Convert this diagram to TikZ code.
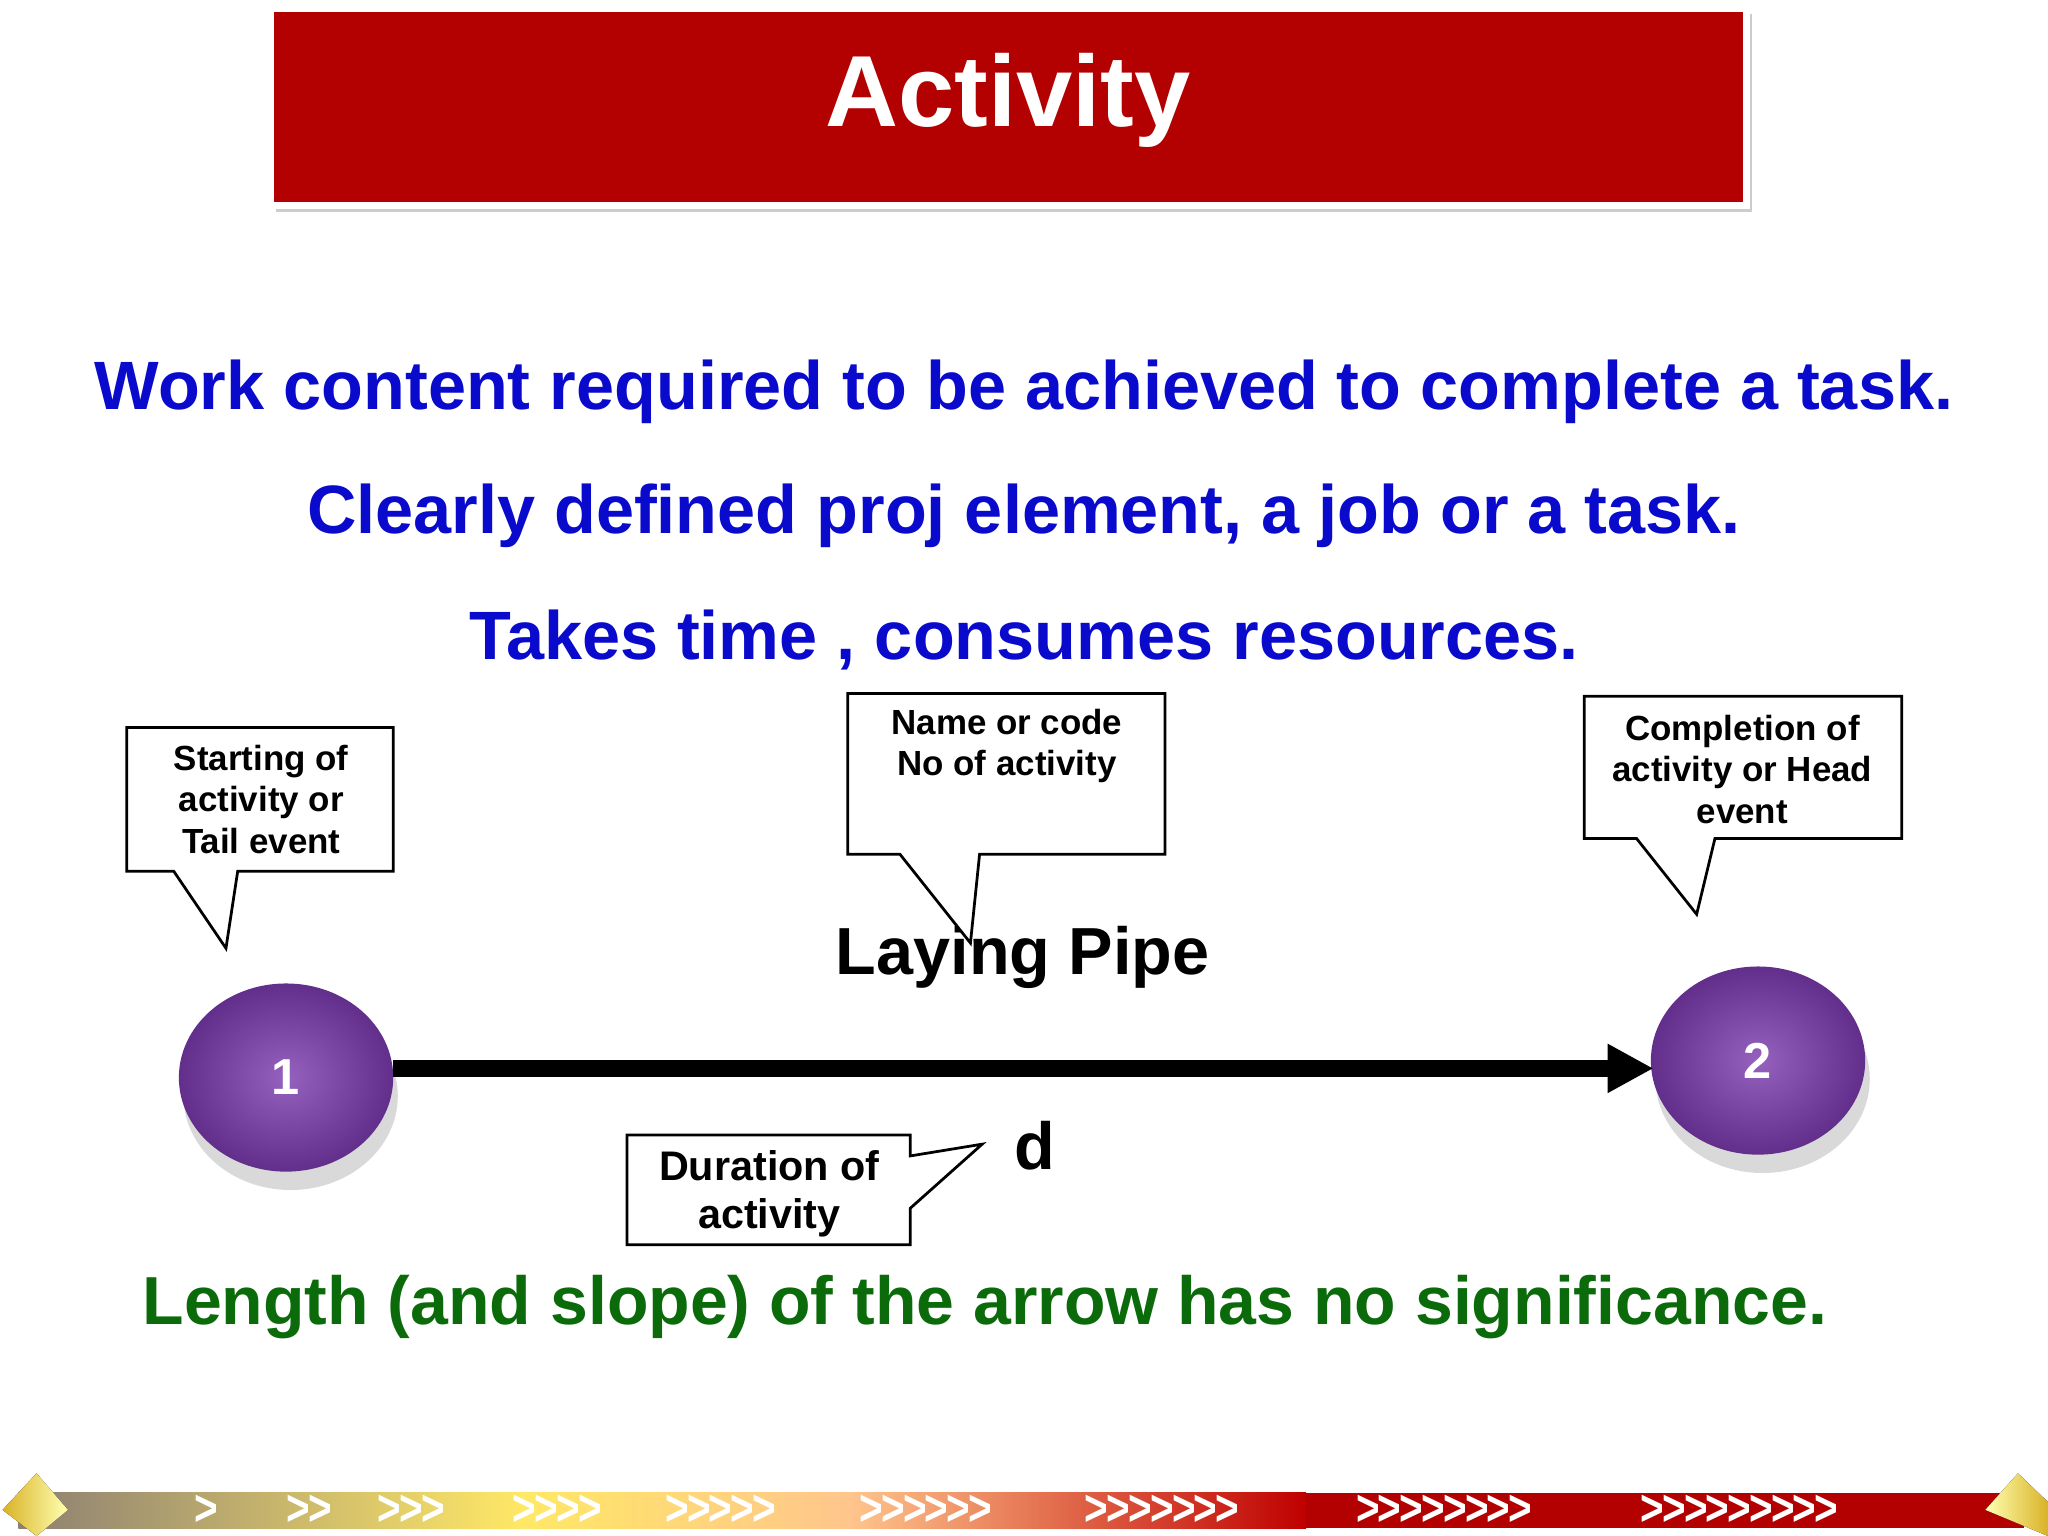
\documentclass[tikz,border=0pt]{standalone}
\usepackage{fontspec}
\setmainfont{Liberation Sans}
\usetikzlibrary{shapes.geometric,arrows.meta,shadows}
\definecolor{tred}{HTML}{B30000}
\definecolor{tblue}{HTML}{0A0ACC}
\definecolor{tgreen}{HTML}{0B6B0B}
\definecolor{tpurp}{HTML}{7B3AAE}
\newcommand{\chev}[1]{\foreach \i in {1,...,#1}{>\kern-0.5pt}}
\begin{document}
\begin{tikzpicture}[x=0.01cm,y=-0.01cm,
  callout/.style={draw,line width=0.6pt,fill=white},
  ctext/.style={font=\bfseries\fontsize{7.6}{9}\selectfont,align=center},
  btext/.style={font=\bfseries\fontsize{14.9}{18}\selectfont,text=tblue},
  event/.style={ellipse,minimum width=1.64cm,minimum height=1.44cm,inner sep=0pt,text=white,
    font=\bfseries\fontsize{11}{12}\selectfont,
    inner color=tpurp!80!white,outer color=tpurp!80!black,
    drop shadow={opacity=0.3,shadow xshift=1pt,shadow yshift=-4pt}}]
\useasboundingbox (0,0) rectangle (1568,1176);
% title
\fill[gray!40] (211,11) rectangle (1341,162);
\node[draw=white,line width=1.5pt,fill=tred,minimum width=1130*0.01cm,minimum height=151*0.01cm,inner sep=0pt] (title) at (772,82) {};
\node[text=white,font=\bfseries\fontsize{22}{26}\selectfont] (tt) at (772,77) {Activity};
% blue lines
\node[btext] (l1) at (784,300) {Work content required to be achieved to complete a task.};
\node[btext] (l2) at (784,395) {Clearly defined proj element, a job or a task.};
\node[btext] (l3) at (784,490) {Takes time , consumes resources.};
% events
\node[event] (e1) at (219,825) {1};
\node[event] (e2) at (1346,812) {2};
\coordinate (as) at (301,818);
\coordinate (ae) at (1266,818);
\draw[line width=3.6pt,-{Triangle[length=10pt,width=10pt]}] (as) -- (ae);
\node[font=\bfseries\fontsize{14.5}{16}\selectfont] (lp) at (783,733) {Laying Pipe};
\node[font=\bfseries\fontsize{14.5}{16}\selectfont] (d) at (792,877) {d};
% callouts
\draw[callout] (97,557) -- (301,557) -- (301,667) -- (182,667) -- (173,726) -- (133,667) -- (97,667) -- cycle;
\node[ctext] (c1) at (200,612) {Starting of\\activity or\\Tail event};
\draw[callout] (649,531) -- (892,531) -- (892,654) -- (750,654) -- (743,722) -- (689,654) -- (649,654) -- cycle;
\node[ctext] (c2) at (771,571) {Name or code\\No of activity};
\draw[callout] (1213,533) -- (1456,533) -- (1456,642) -- (1313,642) -- (1299,700) -- (1253,642) -- (1213,642) -- cycle;
\node[ctext] (c3) at (1334,589) {Completion of\\activity or Head\\event};
\draw[callout] (480,869) -- (697,869) -- (697,885) -- (752,876) -- (697,925) -- (697,953) -- (480,953) -- cycle;
\node[font=\bfseries\fontsize{9}{10.3}\selectfont,align=center] (c4) at (589,914) {Duration of\\activity};
% green
\node[font=\bfseries\fontsize{14.8}{18}\selectfont,text=tgreen] (g) at (754,1001) {Length (and slope) of the arrow has no significance.};
% bottom bar
\shade[left color=gray!80!brown,right color=yellow!70!orange!60] (14,1143) rectangle (400,1170);
\shade[left color=yellow!70!orange!60,right color=orange!45] (400,1143) rectangle (650,1170);
\shade[left color=orange!45,right color=red!75!black] (650,1143) rectangle (1000,1170);
\fill[tred] (1000,1143) rectangle (1550,1170);
\foreach \x/\n in {157/1,236/2,314/3,426/4,551/5,708/6,889/7,1105/8,1331/9}
  \node[text=white,font=\bfseries\fontsize{11}{11}\selectfont,xscale=0.8] at (\x,1156) {\chev{\n}};
\fill[left color=brown!60!yellow,right color=yellow!30] (28,1128) -- (52,1156) -- (28,1176) -- (2,1156) -- cycle;
\fill[left color=yellow!30,right color=brown!60!yellow] (1545,1128) -- (1568,1150) -- (1568,1176) -- (1520,1156) -- cycle;
\end{tikzpicture}
\end{document}
